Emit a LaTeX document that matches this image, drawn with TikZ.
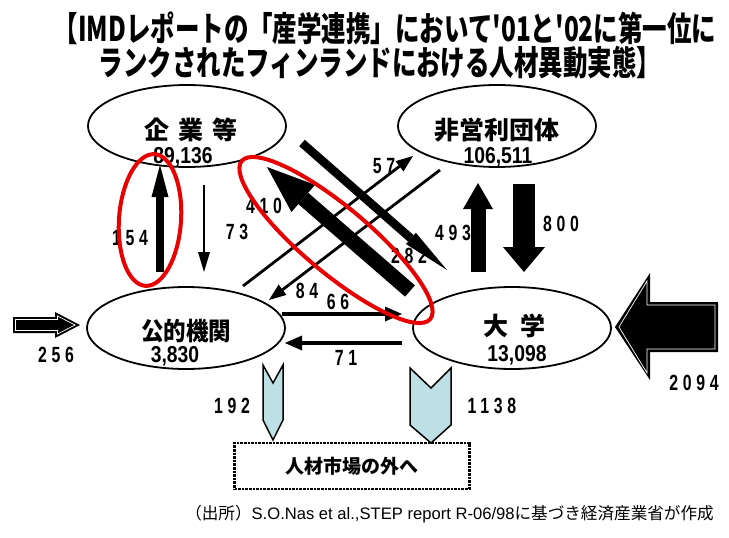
\documentclass[tikz,border=0pt]{standalone}
\usepackage{fontspec}
\usepackage{graphicx}
\usetikzlibrary{shapes.geometric,arrows.meta}
\setmainfont{Liberation Sans}
\newfontfamily\jp{Noto Sans CJK JP}
\newfontfamily\jpsp[LetterSpace=36]{Noto Sans CJK JP}
\newfontfamily\numsp[LetterSpace=30]{Liberation Sans}
\newcommand\nlab[1]{\scalebox{0.72}[1]{#1}}
\newcommand\enum[1]{\scalebox{0.84}[1]{#1}}
\newcommand\ttlsc[1]{\scalebox{0.72}[1]{#1}}
\definecolor{chevc}{RGB}{189,224,228}
\definecolor{redc}{RGB}{232,0,0}
\begin{document}
\begin{tikzpicture}[x=1pt,y=-1pt,
  ell/.style={ellipse,draw,line width=1.8pt,minimum width=198pt,minimum height=82pt,inner sep=0pt},
  ttl/.style={font=\jp\bfseries\fontsize{34}{34}\selectfont,inner sep=0pt},
  nm/.style={font=\jp\bfseries\fontsize{25}{25}\selectfont,inner sep=0pt},
  nmsp/.style={font=\jpsp\bfseries\fontsize{25}{25}\selectfont,inner sep=0pt},
  num/.style={font=\bfseries\fontsize{23}{23}\selectfont,inner sep=0pt},
  lab/.style={font=\numsp\bfseries\fontsize{22}{22}\selectfont,inner sep=0pt},
  thinarr/.style={line width=2.8pt,-{Triangle[length=17pt,width=13pt,line width=0pt]}},
  midarr/.style={line width=3.4pt,-{Triangle[length=17pt,width=15pt,line width=0pt]}},
  chevron/.style={fill=chevc,draw=black,line width=1.5pt,line join=miter},
  redring/.style={ellipse,draw=redc,line width=4pt,inner sep=0pt},
  outbox/.style={draw,line width=2.6pt,densely dotted,minimum width=235pt,minimum height=46pt,inner sep=0pt,font=\jp\bfseries\fontsize{19}{19}\selectfont}
]
\useasboundingbox (0,0) rectangle (729,538);

% title
\node[ttl] (title1) at (385,28) {\ttlsc{【IMDレポートの「産学連携」において'01と'02に第一位に}};
\node[ttl] (title2) at (380,63) {\ttlsc{ランクされたフィンランドにおける人材異動実態】}};

% ellipses
\node[ell] (kigyo) at (187,126) {};
\node[ell] (hiei) at (497,126) {};
\node[ell] (koteki) at (186,328) {};
\node[ell] (daigaku) at (512,328) {};

\node[nmsp] (kigyoT) at (191,130) {企業等};
\node[num] (kigyoN) at (183,157) {\enum{89,136}};
\node[nm] (hieiT) at (497,130) {非営利団体};
\node[num] (hieiN) at (498,157) {\enum{106,511}};
\node[nm] (kotekiT) at (186,331) {\scalebox{0.9}[1]{公的機関}};
\node[num] (kotekiN) at (175,356) {\enum{3,830}};
\node[nm] (daigakuT) at (514,326) {大\hspace{12pt}学};
\node[num] (daigakuN) at (517,355) {\enum{13,098}};

% arrow end points
\coordinate (a154s) at (160,272); \coordinate (a154e) at (160,165);
\coordinate (a73s) at (204,185);  \coordinate (a73e) at (204,272);
\coordinate (a410s) at (410,291); \coordinate (a410e) at (267,167);
\coordinate (a282s) at (302,143); \coordinate (a282e) at (447,270);
\coordinate (a57s) at (243,286);  \coordinate (a57e) at (413,156);
\coordinate (a84s) at (440,170);  \coordinate (a84e) at (269,300);
\coordinate (a66s) at (282,314);  \coordinate (a66e) at (402,314);
\coordinate (a71s) at (402,343);  \coordinate (a71e) at (285,343);
\coordinate (a493s) at (478,272); \coordinate (a493e) at (478,183);
\coordinate (a800s) at (524,184); \coordinate (a800e) at (524,272);

% connectors
\draw[line width=8pt,-{Triangle[length=32pt,width=17pt,line width=0pt]}] (a154s) -- (a154e);
\draw[line width=2.6pt,-{Triangle[length=20pt,width=12pt,line width=0pt]}] (a73s) -- (a73e);
\draw[thinarr] (a57s) -- (a57e);
\draw[thinarr] (a84s) -- (a84e);
\draw[line width=8.5pt,-{Triangle[length=48pt,width=15pt,line width=0pt]}] (a282s) -- (a282e);
\draw[line width=15pt,-{Triangle[length=48pt,width=36pt,line width=0pt]}] (a410s) -- (a410e);
\draw[midarr] (a66s) -- (a66e);
\draw[midarr] (a71s) -- (a71e);
\draw[line width=15pt,-{Triangle[length=26pt,width=30pt,line width=0pt]}] (a493s) -- (a493e);
\draw[line width=22pt,-{Triangle[length=25pt,width=42pt,line width=0pt]}] (a800s) -- (a800e);

% inflow arrows
\fill (13,317) -- (55,317) -- (55,312) -- (80,325) -- (55,338) -- (55,333) -- (13,333) -- cycle;
\draw[white,line width=0.7pt,line join=miter] (15.5,319.5) -- (57.5,319.5) -- (57.5,316) -- (75,325) -- (57.5,334) -- (57.5,330.5) -- (15.5,330.5) -- cycle;
\fill (718,302) -- (650,302) -- (650,273) -- (615,327) -- (650,380) -- (650,352) -- (718,352) -- cycle;
\draw[white,line width=0.7pt,line join=miter] (715,305) -- (647,305) -- (647,281) -- (619,327) -- (647,373) -- (647,349) -- (715,349) -- cycle;

% outflow chevrons
\draw[chevron] (263,365) -- (273,383) -- (283,365) -- (283,420) -- (273,440) -- (263,420) -- cycle;
\draw[chevron] (410,368) -- (431,388) -- (451,368) -- (451,425) -- (431,443) -- (410,425) -- cycle;

% box
\node[outbox] (out) at (352,466) {人材市場の外へ};

% labels
\node[lab] (l154) at (130,238) {\nlab{154}};
\node[lab] (l73) at (237,232) {\nlab{73}};
\node[lab] (l410) at (264,206) {\nlab{410}};
\node[lab] (l57) at (384,166) {\nlab{57}};
\node[lab] (l282) at (409,256) {\nlab{282}};
\node[lab] (l84) at (307,291) {\nlab{84}};
\node[lab] (l66) at (338,302) {\nlab{66}};
\node[lab] (l71) at (346,358) {\nlab{71}};
\node[lab] (l493) at (453,233) {\nlab{493}};
\node[lab] (l800) at (561,224) {\nlab{800}};
\node[lab] (l256) at (56,355) {\nlab{256}};
\node[lab] (l2094) at (694,383) {\nlab{2094}};
\node[lab] (l192) at (232,406) {\nlab{192}};
\node[lab] (l1138) at (492,406) {\nlab{1138}};

% red highlights
\node[redring,minimum width=62pt,minimum height=132pt,rotate=-4] (hl1) at (150,220) {};
\node[redring,minimum width=246pt,minimum height=66pt,rotate=-40] (hl2) at (336,240) {};

% source
\node[anchor=east,inner sep=0pt,font=\fontsize{16.6}{16.6}\selectfont] (src) at (714,514) {{\jp （出所）}S.O.Nas et al.,STEP report R-06/98{\jp に基づき経済産業省が作成}};
\end{tikzpicture}
\end{document}
